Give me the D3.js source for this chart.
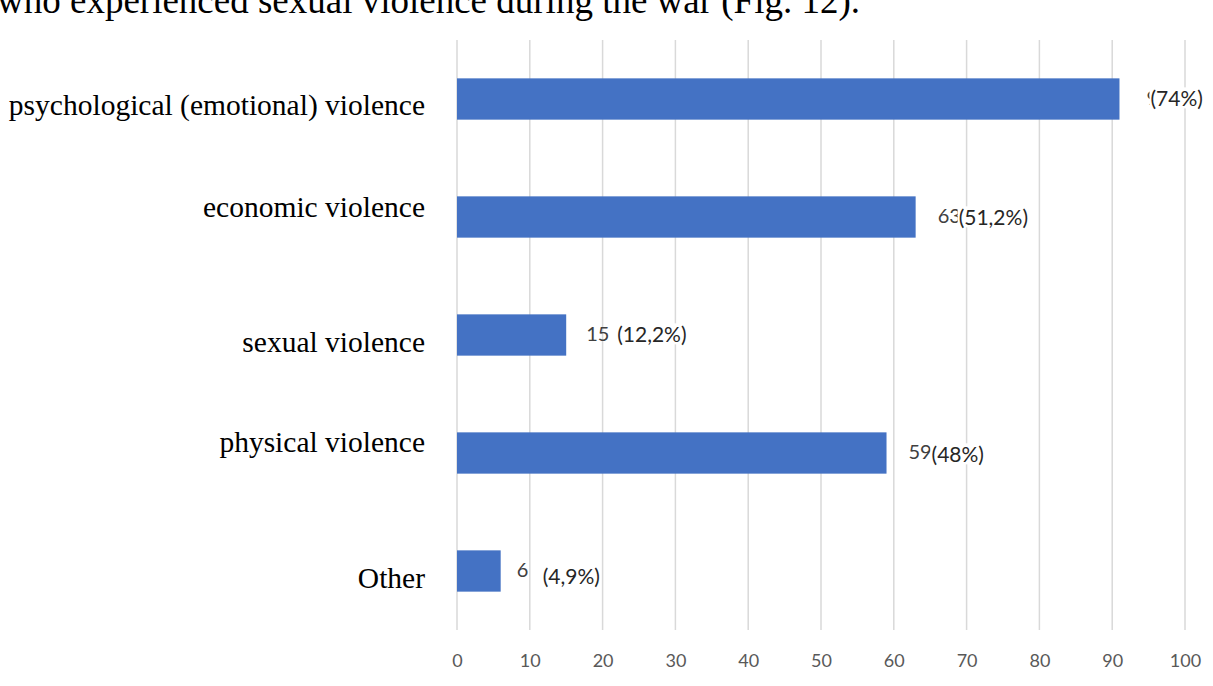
<!DOCTYPE html>
<html>
<head>
<meta charset="utf-8">
<script src="https://cdn.jsdelivr.net/npm/d3@7"></script>
<style>
  body { margin: 0; background: #fff; }
</style>
</head>
<body>
<div id="chart-area"></div>
<script>
// data
var categories = ["psychological (emotional) violence", "economic violence", "sexual violence", "physical violence", "Other"];
var counts = [91, 63, 15, 59, 6];
var shares = ["(74%)", "(51,2%)", "(12,2%)", "(48%)", "(4,9%)"];
var xTicks = [0, 10, 20, 30, 40, 50, 60, 70, 80, 90, 100];
var caption = "who experienced sexual violence during the war (Fig. 12).";

// dimensions
var svgWidth = 1213, svgHeight = 686;
var margin = { left: 457, right: 26, top: 40, bottom: 56 };
var width = svgWidth - margin.left - margin.right;
var height = svgHeight - margin.top - margin.bottom;

var svg = d3.select("#chart-area").append("svg")
    .attr("width", svgWidth)
    .attr("height", svgHeight);

// caption line cut off at the top of the page
svg.append("text")
    .attr("x", -3)
    .attr("y", 13)
    .attr("font-family", "'Liberation Serif', 'Times New Roman', serif")
    .attr("font-size", 37)
    .attr("fill", "#000")
    .text(caption);

var g = svg.append("g")
    .attr("transform", "translate(" + margin.left + "," + margin.top + ")");

// scales
var x = d3.scaleLinear().domain([0, 100]).range([0, width - 2]);
var y = d3.scaleBand().domain(categories).range([0, height]).paddingInner(0.65).paddingOuter(0.325);

// gridlines
g.selectAll(".grid").data(xTicks).enter().append("line")
    .attr("class", "grid")
    .attr("x1", function(d) { return x(d); })
    .attr("x2", function(d) { return x(d); })
    .attr("y1", 0)
    .attr("y2", height)
    .attr("stroke", "#d9d9d9")
    .attr("stroke-width", 1.5);

// x axis (labels only)
var xAxis = d3.axisBottom(x).tickValues(xTicks).tickSize(0).tickPadding(24);
var axisG = g.append("g")
    .attr("transform", "translate(0," + height + ")")
    .call(xAxis);
axisG.select(".domain").remove();
axisG.selectAll("text")
    .attr("font-family", "Lato, 'Open Sans', sans-serif")
    .attr("font-size", 18)
    .attr("fill", "#595959");

// bars
g.selectAll(".bar").data(categories).enter().append("rect")
    .attr("class", "bar")
    .attr("x", x(0))
    .attr("y", function(d) { return y(d); })
    .attr("width", function(d, i) { return x(counts[i]) - x(0); })
    .attr("height", y.bandwidth())
    .attr("fill", "#4472C4");

// category labels (typed over the picture, slightly off-centre)
var labelNudge = [6, -10, 7, -11, 7];
svg.selectAll(".cat").data(categories).enter().append("text")
    .attr("class", "cat")
    .attr("x", 425)
    .attr("y", function(d, i) { return margin.top + y(d) + y.bandwidth() / 2 + labelNudge[i]; })
    .attr("dy", "0.35em")
    .attr("text-anchor", "end")
    .attr("font-family", "'Liberation Serif', 'Times New Roman', serif")
    .attr("font-size", 29.5)
    .attr("fill", "#000")
    .text(function(d) { return d; });

// value labels
var valueGap = [27, 22, 20, 22, 16];
g.selectAll(".val").data(categories).enter().append("text")
    .attr("class", "val")
    .attr("x", function(d, i) { return x(counts[i]) + valueGap[i]; })
    .attr("y", function(d) { return y(d) + y.bandwidth() / 2; })
    .attr("dy", "0.3em")
    .attr("font-family", "Lato, 'Open Sans', sans-serif")
    .attr("font-size", 20)
    .attr("fill", "#404040")
    .text(function(d, i) { return counts[i]; });

// percentage boxes pasted over the values
var shareShift = [4, 21, 31, 23, 26];
var shareDrop = [0, 1, 0, 2, 6];
var shareG = g.selectAll(".share").data(categories).enter().append("g")
    .attr("class", "share")
    .attr("transform", function(d, i) {
        return "translate(" + (x(counts[i]) + valueGap[i] + shareShift[i]) + "," +
            (y(d) + y.bandwidth() / 2 + shareDrop[i]) + ")";
    });
shareG.append("text")
    .attr("dy", "0.35em")
    .attr("font-family", "Lato, 'Open Sans', sans-serif")
    .attr("font-size", 21)
    .attr("fill", "#262626")
    .text(function(d, i) { return shares[i]; });
shareG.insert("rect", "text")
    .each(function() {
        var bb = this.parentNode.querySelector("text").getBBox();
        d3.select(this)
            .attr("x", bb.x - 1)
            .attr("y", bb.y + 2)
            .attr("width", bb.width + 2)
            .attr("height", bb.height - 4)
            .attr("fill", "#fff");
    });
</script>
</body>
</html>
